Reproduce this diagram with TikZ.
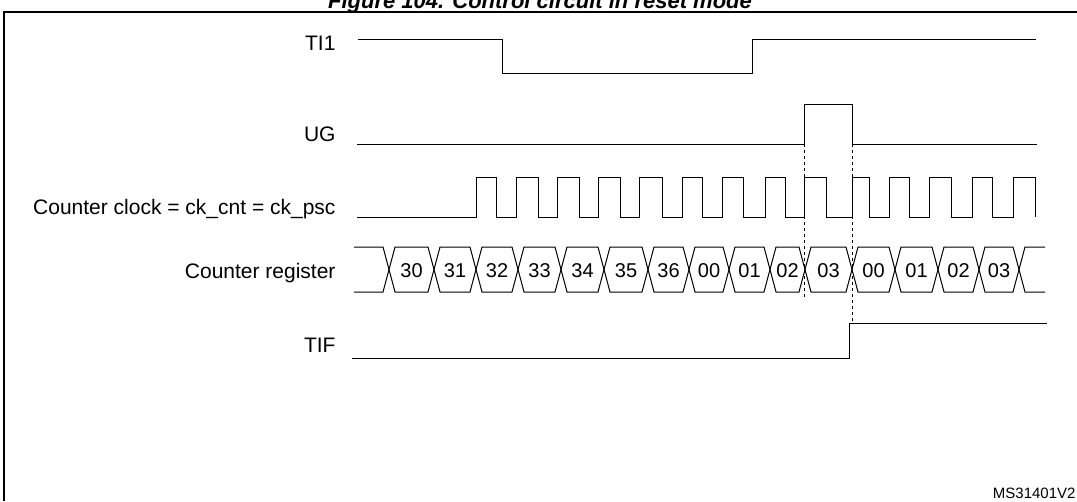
\documentclass[tikz,border=0pt]{standalone}
\usepackage{fontspec}
\setmainfont{Liberation Sans}
\begin{document}
\begin{tikzpicture}[x=1pt, y=-1pt, line width=1pt, font=\fontsize{21}{24}\selectfont,
  siglabel/.style={anchor=east, inner sep=0pt},
  busval/.style={inner sep=0pt, font=\fontsize{20}{23}\selectfont},
  guide/.style={dashed, line width=0.8pt}]
\useasboundingbox (0,0) rectangle (1077,501);

% Title and frame
\node[font=\bfseries\itshape\fontsize{22}{25}\selectfont, anchor=base] (title) at (540,8) {Figure 104. Control circuit in reset mode};
\draw[line width=1.8pt] (1077,12) -- (4,12) -- (4,501);

% Signal labels
\node[siglabel] (lti) at (336,43) {TI1};
\node[siglabel] (lug) at (336,134) {UG};
\node[siglabel] (lck) at (336,209) {Counter clock = ck\_cnt = ck\_psc};
\node[siglabel] (lcr) at (336,273) {Counter register};
\node[siglabel] (ltif) at (336,345) {TIF};

% TI1
\draw (358,39) -- (502,39) -- (502,73) -- (752,73) -- (752,39) -- (1036,39);

% UG
\draw (357,144) -- (804,144) -- (804,104) -- (852,104) -- (852,144) -- (1037,144);

% Counter clock
\draw (357,217) -- (476,217)
  \foreach \r/\f in {476/496,516/538,557/579,598/620,639/662,682/702,722/743,765/785,804/826,852/869,889/909,929/951,972/992,1013/1035}
  { -- (\r,217) -- (\r,177) -- (\f,177) -- (\f,217) };

% Counter register
\draw (354,247) -- (383,247) -- (389,269.5) -- (383,292) -- (354,292);
\foreach \a/\b/\v in {389/434/30,434/476/31,476/518/32,518/561/33,561/604/34,604/648/35,648/689/36,689/729/00,729/770/01,770/805/02,805/852/03,852/895/00,895/938/01,938/979/02,979/1019/03}
{
  \draw (\a,269.5) -- (\a+6,247) -- (\b-6,247) -- (\b,269.5) -- (\b-6,292) -- (\a+6,292) -- cycle;
  \node[busval] at ({(\a+\b)/2},271) {\v};
}
\draw (1045,247) -- (1025,247) -- (1019,269.5) -- (1025,292) -- (1045,292);

% TIF
\draw (352,358) -- (849,358) -- (849,323) -- (1047,323);

% Guides
\draw[guide] (804,144) -- (804,298);
\draw[guide] (852,144) -- (852,323);

\node[anchor=south east, inner sep=0pt, font=\fontsize{15}{17}\selectfont] (code) at (1076,499) {MS31401V2};
\end{tikzpicture}
\end{document}
